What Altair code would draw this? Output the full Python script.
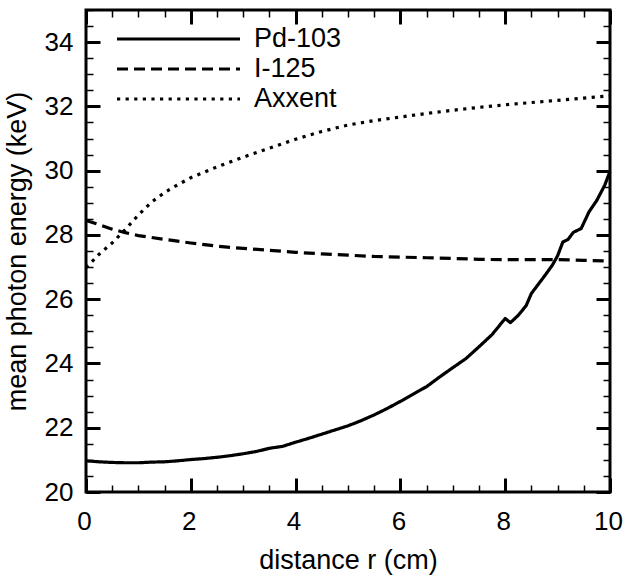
import altair as alt
import pandas as pd

# ---- data ----
series_names = ["Pd-103", "I-125", "Axxent"]

pd_r = [0.0, 0.25, 0.5, 0.75, 1.0, 1.25, 1.5, 1.75, 2.0, 2.25, 2.5, 2.75, 3.0, 3.25, 3.5,
        3.75, 4.0, 4.25, 4.5, 4.75, 5.0, 5.25, 5.5, 5.75, 6.0, 6.25, 6.5, 6.75, 7.0, 7.25,
        7.5, 7.75, 8.0, 8.1, 8.25, 8.4, 8.5, 8.75, 8.9, 9.0, 9.1, 9.2, 9.3, 9.45, 9.6, 9.75,
        9.9, 10.0]
pd_e = [20.97, 20.94, 20.92, 20.91, 20.91, 20.93, 20.94, 20.97, 21.01, 21.04, 21.08, 21.13,
        21.19, 21.26, 21.36, 21.42, 21.55, 21.67, 21.80, 21.93, 22.06, 22.22, 22.40, 22.60,
        22.82, 23.05, 23.28, 23.58, 23.87, 24.15, 24.52, 24.90, 25.40, 25.27, 25.50, 25.80,
        26.18, 26.72, 27.06, 27.35, 27.78, 27.86, 28.08, 28.20, 28.72, 29.08, 29.55, 29.98]

i_r = [0.0, 0.25, 0.5, 0.75, 1.0, 1.5, 2.0, 2.5, 3.0, 3.5, 4.0, 4.5, 5.0, 5.5, 6.0, 6.5,
       7.0, 7.5, 8.0, 8.5, 9.0, 9.5, 10.0]
i_e = [28.45, 28.32, 28.18, 28.07, 27.98, 27.86, 27.75, 27.65, 27.58, 27.52, 27.46, 27.41,
       27.37, 27.33, 27.31, 27.29, 27.27, 27.24, 27.23, 27.23, 27.23, 27.21, 27.19]

ax_r = [0.0, 0.25, 0.5, 0.75, 1.0, 1.25, 1.5, 1.75, 2.0, 2.5, 3.0, 3.5, 4.0, 4.5, 5.0, 5.5,
        6.0, 6.5, 7.0, 7.5, 8.0, 8.5, 9.0, 9.5, 10.0]
ax_e = [26.98, 27.40, 27.75, 28.17, 28.62, 29.02, 29.32, 29.56, 29.78, 30.12, 30.42, 30.70,
        30.98, 31.22, 31.42, 31.56, 31.67, 31.78, 31.88, 31.97, 32.05, 32.12, 32.19, 32.26,
        32.33]

x_major = [0, 2, 4, 6, 8, 10]
x_minor = [i * 0.5 for i in range(21)]
y_major = [20, 22, 24, 26, 28, 30, 32, 34]
y_minor = [20 + i * 0.5 for i in range(31)]

rows = []
for name, rs, es in zip(series_names, [pd_r, i_r, ax_r], [pd_e, i_e, ax_e]):
    for r, e in zip(rs, es):
        rows.append({"series": name, "r": r, "E": e})
df = pd.DataFrame(rows)

FONT = "Liberation Sans"
FS = 27
LFS = 26
xscale = alt.Scale(domain=[0, 10], nice=False, zero=False)
yscale = alt.Scale(domain=[20, 35], nice=False, zero=False)

x_lab_axis = alt.Axis(orient="bottom", values=x_major, ticks=False, domain=False, grid=False,
                      labelPadding=16, labelFont=FONT, labelFontSize=LFS, labelColor="black",
                      labelOffset=-2,
                      title="distance r (cm)", titleFont=FONT, titleFontSize=FS,
                      titleFontWeight="normal", titleColor="black", titlePadding=13,
                      labelFlush=False, labelOverlap=False)
y_lab_axis = alt.Axis(orient="left", values=y_major, ticks=False, domain=False, grid=False,
                      labelPadding=13, labelFont=FONT, labelFontSize=LFS, labelColor="black",
                      title="mean photon energy (keV)", titleFont=FONT, titleFontSize=FS,
                      titleFontWeight="normal", titleColor="black", titlePadding=13,
                      labelFlush=False, labelOverlap=False)

lines = alt.Chart(df).mark_line(strokeWidth=3.2, color="black", strokeJoin="round").encode(
    x=alt.X("r:Q", scale=xscale, axis=x_lab_axis),
    y=alt.Y("E:Q", scale=yscale, axis=y_lab_axis),
    strokeDash=alt.StrokeDash(
        "series:N",
        scale=alt.Scale(domain=series_names, range=[[1, 0], [11, 6], [3.2, 5.4]]),
        legend=alt.Legend(title=None, orient="none", legendX=29, legendY=14,
                          symbolType="stroke", symbolSize=15129, symbolStrokeWidth=3.2,
                          symbolStrokeColor="black", clipHeight=30, rowPadding=0,
                          labelFont=FONT, labelFontSize=FS, labelColor="black",
                          labelOffset=12, padding=0),
    ),
)


def tick_axis(orient, values, size, width):
    return alt.Axis(orient=orient, values=values, labels=False, domain=False, grid=False,
                    title=None, ticks=True, tickSize=size, tickWidth=width,
                    tickColor="black", offset=-size)


def tick_layer(xax, yax):
    return alt.Chart(df).mark_point(opacity=0, size=1).encode(
        x=alt.X("r:Q", scale=xscale, axis=xax),
        y=alt.Y("E:Q", scale=yscale, axis=yax),
    )


layers = [
    lines,
    tick_layer(tick_axis("bottom", x_major, 14, 3), tick_axis("left", y_major, 14, 3)),
    tick_layer(tick_axis("bottom", x_minor, 7, 1.5), tick_axis("left", y_minor, 7, 1.5)),
    tick_layer(tick_axis("top", x_major, 14, 3), tick_axis("right", y_major, 14, 3)),
    tick_layer(tick_axis("top", x_minor, 7, 1.5), tick_axis("right", y_minor, 7, 1.5)),
]

chart = alt.layer(*layers).resolve_axis(x="independent", y="independent").properties(
    width=524, height=482,
    autosize=alt.AutoSizeParams(type="none"),
    padding={"left": 86, "top": 10, "right": 14, "bottom": 85},
    background="white",
).configure_view(stroke="black", strokeWidth=3)

chart.save("out.html", embed_options={"renderer": "svg", "actions": False})
